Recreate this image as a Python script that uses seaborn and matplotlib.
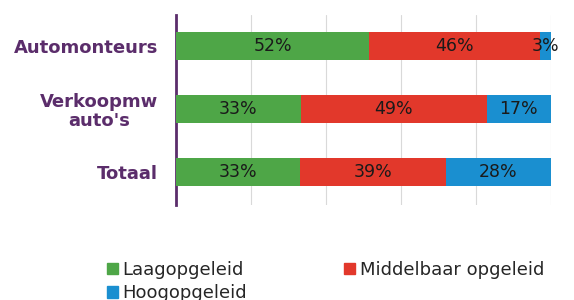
import numpy as np
import pandas as pd
import matplotlib.pyplot as plt
import matplotlib.patches as mpatches
import seaborn as sns

# ── Data ──────────────────────────────────────────────────────────────────────
groups = ["Automonteurs", "Verkoopmw\nauto's", "Totaal"]
laag = [52, 33, 33]
middel = [46, 49, 39]
hoog = [3, 17, 28]
series_names = ["Laagopgeleid", "Middelbaar opgeleid", "Hoogopgeleid"]

COLORS = {
    "Laagopgeleid": "#4ea647",
    "Middelbaar opgeleid": "#e2382b",
    "Hoogopgeleid": "#1a8fd0",
    "label": "#5b2d6b",
    "grid": "#d9d9d9",
}

df = pd.DataFrame({"group": groups, "Laagopgeleid": laag,
                   "Middelbaar opgeleid": middel, "Hoogopgeleid": hoog})
# 100% stacked: scale each row to its total
totals = df[series_names].sum(axis=1)
shares = df[series_names].div(totals, axis=0) * 100
cum = shares.cumsum(axis=1)

sns.set_theme(style="white")
plt.rcParams["font.family"] = ["DejaVu Sans"]

fig = plt.figure(figsize=(5.74, 3.0), dpi=100)
ax = fig.add_axes([0.3066, 0.317, 0.6533, 0.633])

# draw back to front so the cumulative bars look stacked
for name in reversed(series_names):
    sns.barplot(x=cum[name], y=df["group"], orient="h", color=COLORS[name],
                width=0.44, ax=ax, saturation=1, edgecolor="none", zorder=3)

# value labels in the middle of each segment
for i in range(len(df)):
    left = 0
    for name in series_names:
        w = shares.loc[i, name]
        ax.text(left + w / 2, i, f"{df.loc[i, name]}%", ha="center", va="center",
                fontsize=12.5, color="#1a1a1a", zorder=4)
        left += w

ax.set_xlim(0, 100)
ax.set_ylim(2.52, -0.49)
ax.set_xticks([20, 40, 60, 80, 100])
ax.set_xticklabels([])
ax.xaxis.grid(True, color=COLORS["grid"], linewidth=0.8, zorder=0)
ax.set_xlabel("")
ax.set_ylabel("")
for side in ["top", "right", "bottom"]:
    ax.spines[side].set_visible(False)
ax.spines["left"].set_color(COLORS["label"])
ax.spines["left"].set_linewidth(2)
ax.tick_params(axis="y", length=0, pad=13)
for lbl in ax.get_yticklabels():
    lbl.set_fontweight("bold")
    lbl.set_color(COLORS["label"])
    lbl.set_fontsize(13)
    lbl.set_multialignment("center")
    lbl.set_linespacing(1.1)

# order handles so the legend fills row by row
order = ["Laagopgeleid", "Hoogopgeleid", "Middelbaar opgeleid"]
handles = [mpatches.Patch(color=COLORS[n], label=n) for n in order]
fig.legend(handles=handles, loc="upper left", bbox_to_anchor=(0.186, 0.13),
           ncol=2, frameon=False, fontsize=13, handlelength=0.6, handleheight=0.6,
           handletextpad=0.25, columnspacing=5.4, labelspacing=0.3,
           borderpad=0, borderaxespad=0)

plt.savefig("out.png", dpi=100)
plt.close()
